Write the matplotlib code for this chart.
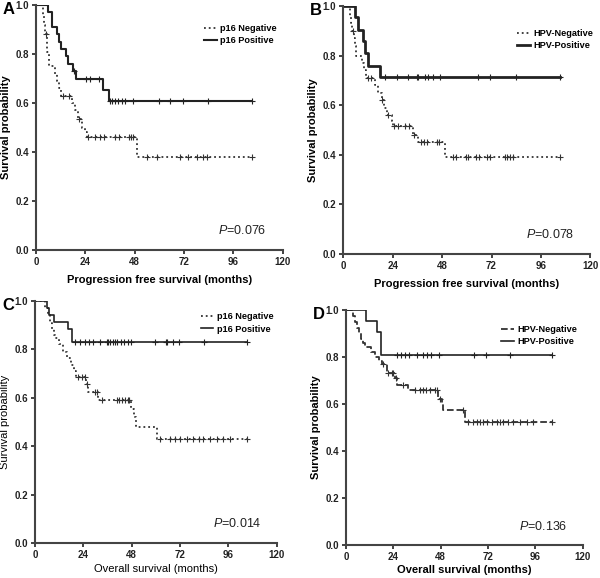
import numpy as np
import matplotlib
matplotlib.use("Agg")
import matplotlib.pyplot as plt
from matplotlib.lines import Line2D

plt.rcParams['font.family'] = ['Liberation Sans', 'DejaVu Sans']
plt.rcParams['mathtext.fontset'] = 'custom'
plt.rcParams['mathtext.it'] = 'Liberation Sans:italic'
plt.rcParams['mathtext.rm'] = 'Liberation Sans'

# Panel A: p16, progression free survival
a_pos_t = [6.0, 7.6, 10.0, 11.2, 12.2, 14.4, 15.7, 17.8, 19.5, 32.4, 35.5]
a_pos_s = [0.97, 0.91, 0.88, 0.85, 0.82, 0.79, 0.76, 0.73, 0.70, 0.655, 0.61]
a_pos_c = [18.5, 24.3, 26.3, 30.8, 36.0, 37.1, 38.4, 40.0, 41.7, 43.3, 47.3, 59.8, 65.2, 71.3, 83.8, 105]
a_neg_t = [3.4, 4.0, 4.6, 5.3, 6.5, 9.2, 10.3, 11.3, 12.3, 17.4, 18.8, 20.6, 22.2, 23.8, 25.0, 49.3]
a_neg_s = [0.96, 0.92, 0.88, 0.81, 0.75, 0.72, 0.69, 0.66, 0.63, 0.60, 0.57, 0.535, 0.50, 0.48, 0.46, 0.38]
a_neg_c = [5.0, 13.0, 16.2, 21.0, 25.4, 28.7, 31.1, 33.2, 38.4, 40.5, 45.4, 46.2, 47.0, 53.8, 58.7, 70, 74.1, 78.2, 81.4, 83, 105]

# Panel B: HPV, progression free survival
b_pos_t = [5.6, 7.3, 9.4, 10.8, 12.1, 18.1]
b_pos_s = [0.955, 0.905, 0.86, 0.81, 0.76, 0.715]
b_pos_c = [20.2, 25.9, 31.5, 35.9, 36.4, 39.6, 41.2, 43.4, 47.2, 65.2, 71.1, 83.7, 105.4]
b_neg_t = [3.2, 3.8, 4.5, 5.2, 5.7, 6.2, 8.9, 10.0, 11.3, 15.4, 16.8, 18.6, 20.0, 21.3, 23.5, 24.3, 34.0, 36.1, 49.3]
b_neg_s = [0.96, 0.93, 0.90, 0.87, 0.84, 0.80, 0.77, 0.74, 0.71, 0.68, 0.65, 0.62, 0.59, 0.56, 0.535, 0.515, 0.48, 0.45, 0.39]
b_neg_c = [4.8, 12.1, 13.3, 18.9, 21.6, 24.7, 26.7, 29.9, 31.9, 34.5, 38.0, 39.3, 40.7, 45.3, 46.6,
           53.4, 54.7, 59.4, 60.6, 64.7, 66.0, 70.0, 71.1, 78.4, 79.6, 81.2, 82.4, 105.4]

# Panel C: p16, overall survival
c_pos_t = [5.8, 7.1, 9.4, 16.2, 18.2]
c_pos_s = [0.97, 0.94, 0.912, 0.883, 0.828]
c_pos_c = [19.9, 22.3, 24.8, 27.0, 29.0, 32.3, 35.6, 36.4, 37.2, 38.6, 39.7, 40.9, 42.5, 44.2, 46.3, 47.5,
           59.6, 64.9, 65.4, 68.7, 71.5, 84.1, 105.1]
c_neg_t = [5.0, 6.5, 7.5, 8.5, 9.3, 10.0, 12.0, 14.0, 16.0, 18.0, 19.5, 20.5, 25.5, 26.5, 31.5, 47.5, 49.0, 50.0, 60.5]
c_neg_s = [0.97, 0.94, 0.91, 0.885, 0.86, 0.845, 0.82, 0.79, 0.765, 0.735, 0.71, 0.685, 0.655, 0.625, 0.59,
           0.555, 0.52, 0.48, 0.43]
c_neg_c = [21.5, 23.2, 24.8, 26.0, 29.8, 30.9, 33.1, 40.6, 41.9, 43.1, 44.7, 46.0, 46.7, 62.1, 67.0, 69.5,
           72.0, 75.3, 78.3, 81.6, 83.6, 86.9, 90.2, 93.5, 96.8, 105.1]

# Panel D: HPV, overall survival
d_pos_t = [10.0, 15.9, 17.7]
d_pos_s = [0.953, 0.905, 0.81]
d_pos_c = [25.7, 27.9, 29.9, 32.1, 36.1, 39.2, 40.9, 43.1, 47.3, 64.9, 71.0, 83.1, 104.6]
d_neg_t = [3.5, 4.5, 5.5, 6.5, 7.5, 8.5, 9.6, 12.7, 14.5, 16.5, 18.1, 20.6, 24.8, 25.7, 31.6, 46.5, 48.5, 49.3, 60.3]
d_neg_s = [0.975, 0.95, 0.925, 0.90, 0.875, 0.86, 0.844, 0.82, 0.80, 0.785, 0.77, 0.73, 0.71, 0.68, 0.66,
           0.62, 0.60, 0.575, 0.525]
d_neg_c = [18.6, 21.5, 23.2, 24.0, 25.2, 29.1, 35.0, 37.5, 39.2, 40.6, 42.6, 45.1, 46.0, 47.5, 59.5, 62.0,
           64.5, 66.3, 67.9, 69.6, 71.6, 73.9, 76.4, 78.1, 79.8, 82.3, 84.8, 88.2, 91.6, 95.0, 104.6]


def km_line(ax, times, surv, cens, ls, lw, color):
    end = max(cens)
    t = np.r_[0, times, end]
    s = np.r_[1.0, surv, surv[-1]]
    ax.step(t, s, where='post', ls=ls, lw=lw, color=color)
    idx = np.searchsorted(times, cens, side='right')
    cy = np.r_[1.0, surv][idx]
    ax.plot(cens, cy, '+', color=color, ms=4, mew=0.8)


fig = plt.figure(figsize=(6, 5.78), dpi=100)

# letter, axes rect, negative, positive, legend labels, xlabel, p value, neg style, pos width,
# label weight, legend anchor, xlabel pad
panels = [
    ('A', [0.060, 0.5675, 0.411, 0.4238], (a_neg_t, a_neg_s, a_neg_c), (a_pos_t, a_pos_s, a_pos_c),
     ['p16 Negative', 'p16 Positive'], 'Progression free survival (months)', '0.076', ':', 1.5, 'bold',
     (1.0, 0.945), 6),
    ('B', [0.572, 0.5606, 0.412, 0.429], (b_neg_t, b_neg_s, b_neg_c), (b_pos_t, b_pos_s, b_pos_c),
     ['HPV-Negative', 'HPV-Positive'], 'Progression free survival (months)', '0.078', ':', 2.0, 'bold',
     (1.035, 0.93), 6),
    ('C', [0.0583, 0.060, 0.403, 0.4197], (c_neg_t, c_neg_s, c_neg_c), (c_pos_t, c_pos_s, c_pos_c),
     ['p16 Negative', 'p16 Positive'], 'Overall survival (months)', '0.014', ':', 1.2, 'normal',
     (1.01, 0.975), 3),
    ('D', [0.5767, 0.0571, 0.3945, 0.4066], (d_neg_t, d_neg_s, d_neg_c), (d_pos_t, d_pos_s, d_pos_c),
     ['HPV-Negative', 'HPV-Positive'], 'Overall survival (months)', '0.136', '--', 1.2, 'bold',
     (1.0, 0.96), 2),
]

for letter, rect, neg, pos, labels, xlab, pval, nls, plw, weight, anchor, xpad in panels:
    ax = fig.add_axes(rect)
    km_line(ax, *neg, ls=nls, lw=1.3, color='#333333')
    km_line(ax, *pos, ls='-', lw=plw, color='#222222')

    ax.set_xlim(0, 120)
    ax.set_ylim(0, 1.0)
    ax.set_xticks([0, 24, 48, 72, 96, 120])
    ax.set_yticks([0.0, 0.2, 0.4, 0.6, 0.8, 1.0])
    ax.set_yticklabels([f'{v:.1f}' for v in [0.0, 0.2, 0.4, 0.6, 0.8, 1.0]])
    ax.spines['top'].set_visible(False)
    ax.spines['right'].set_visible(False)
    for sp in ['left', 'bottom']:
        ax.spines[sp].set_linewidth(1.5)
        ax.spines[sp].set_color('#444444')
    ax.tick_params(direction='out', length=3, width=1.2, labelsize=7, pad=2, colors='#222222')
    for lbl in ax.get_xticklabels() + ax.get_yticklabels():
        lbl.set_fontweight('bold')

    ax.set_xlabel(xlab, fontsize=8, fontweight=weight, labelpad=xpad)
    ax.set_ylabel('Survival probability', fontsize=8, fontweight=weight, labelpad=3)

    handles = [Line2D([], [], ls=nls, lw=1.3, color='#333333'),
               Line2D([], [], ls='-', lw=plw, color='#222222')]
    ax.legend(handles, labels, loc='upper right', bbox_to_anchor=anchor, frameon=False,
              prop={'size': 6.6, 'weight': 'bold'}, handlelength=1.4, handletextpad=0.4,
              labelspacing=0.35, borderaxespad=0.2)

    ax.text(0.935, 0.08, r'$P$=' + pval, transform=ax.transAxes, ha='right', va='center',
            fontsize=9, color='#222222')

    fig.text(rect[0] - 0.045, rect[1] + rect[3] - 0.008, letter, fontsize=12, fontweight='bold',
             ha='center', va='center')

fig.savefig('out.png', dpi=100)
